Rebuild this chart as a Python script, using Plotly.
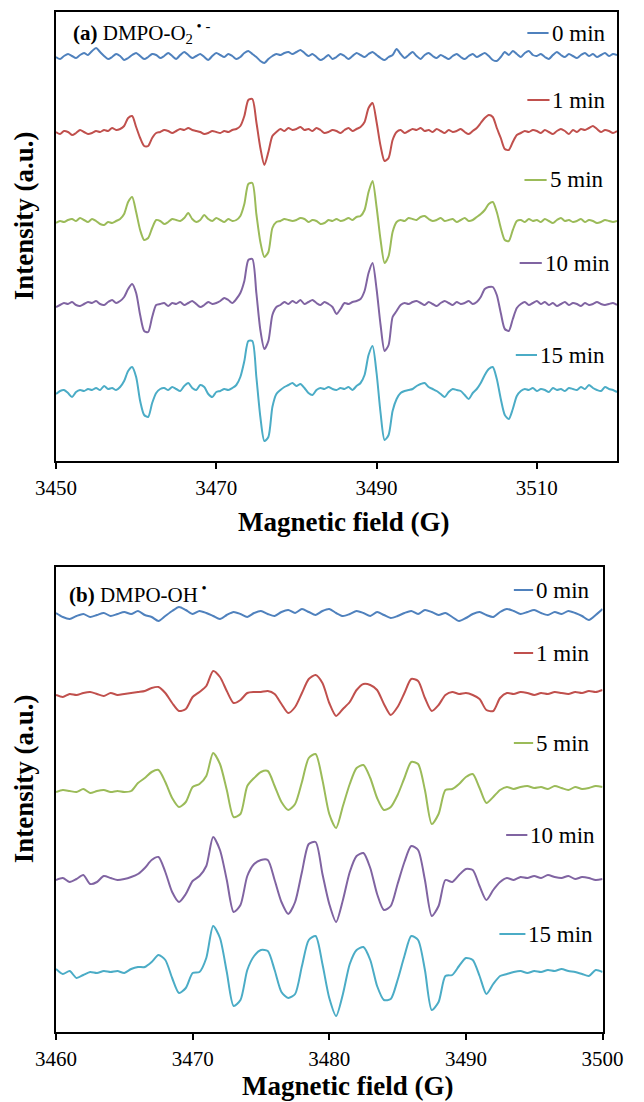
import numpy as np
import plotly.graph_objects as go

# ---------------- data ----------------
# magnetic-field sampling grids (G)
FIELD_A = np.linspace(3450, 3520, 141)
FIELD_B = np.linspace(3460, 3500, 81)

TIMES = ["0 min", "1 min", "5 min", "10 min", "15 min"]

# (a) DMPO-O2 spectra, baseline-relative intensity (a.u.)
O2_0 = [0, -2, 1, 3, 1, -1, 2, 4, 2, 6,
        9, 5, 1, -2, 0, 3, 1, -3, -1, 2,
        4, 1, -2, 0, 3, 2, -1, 1, 4, 1,
        -2, 2, 5, 2, -1, 1, 3, 0, -3, 1,
        4, 2, 0, 3, 1, -2, 0, 4, 6, 3,
        0, -4, -6, -2, 1, 3, 2, 4, 5, 3,
        5, 7, 4, 1, 3, 0, -3, -1, 2, -2,
        0, 3, 1, -2, 1, 4, 2, 0, 3, 5,
        2, -1, -3, 0, 2, 8, 3, -1, 2, 5,
        1, -2, 2, 4, 1, -1, 2, 0, -2, 1,
        3, 0, -2, 1, 3, 0, 2, 4, 1, -3,
        -4, 0, 5, 2, 6, 3, 0, 4, 6, 2,
        1, 3, 0, -2, 2, 5, 2, 0, 3, 1,
        -1, 2, 4, 1, 3, 0, 2, 4, 1, 3,
        2]
O2_1 = [0, -2, 1, 0, -3, -1, 2, 0, -2, -1,
        1, 0, 2, 1, 4, 2, 3, 6, 14, 16,
        5, -6, -14, -14, -6, -1, 0, 2, 1, -1,
        1, 3, 2, 4, 2, 1, 0, -2, -1, 1,
        0, -1, 1, 0, 2, 3, 6, 16, 32, 33,
        10, -16, -33, -20, -4, 0, 3, 1, 4, 2,
        3, 5, 2, 3, 1, 4, 2, -1, 0, 2,
        1, -1, 2, 4, 1, 3, 5, 10, 24, 29,
        10, -14, -29, -26, -8, 0, 2, -1, 1, 3,
        2, 4, 1, 2, 0, 3, 1, -1, 2, 0,
        1, 3, 0, -2, 1, 4, 9, 14, 17, 15,
        4, -6, -17, -18, -10, -3, -1, 1, 0, 2,
        1, -1, 2, 0, -2, 1, 3, 1, -2, 2,
        0, 3, 2, 4, 6, 3, 0, 2, 1, -1,
        1]
O2_5 = [-1, 1, 0, 2, 3, 1, 4, 2, 0, 3,
        1, -2, -3, 0, -1, 1, 3, 8, 20, 25,
        10, -8, -18, -16, -6, 2, 1, -2, 0, 3,
        2, 1, 4, 9, 3, 0, 2, 7, 3, 1,
        4, 2, 0, 3, 1, 2, 6, 18, 38, 39,
        8, -20, -35, -30, -6, 0, 1, 3, 2, 1,
        2, 4, 3, 0, 2, 1, -2, -1, 2, 1,
        3, 1, 2, 4, 2, 5, 6, 12, 30, 41,
        15, -18, -41, -34, -10, 0, 2, 1, 4, 3,
        2, 5, 6, 3, 1, 2, 4, 1, 2, 3,
        0, 2, 4, 1, 2, 5, 8, 12, 18, 20,
        10, -6, -18, -19, -8, 1, 2, 0, 3, 1,
        2, 0, 3, 1, -1, 2, 4, 1, 2, 0,
        1, 3, 0, 2, 1, -1, 0, 2, 1, 0,
        1]
O2_10 = [-2, 0, 2, 1, 3, 0, -1, 1, 3, 2,
         4, 1, 0, 3, 5, 2, 4, 8, 16, 21,
         12, -10, -26, -27, -12, 0, 1, 2, -1, 2,
         1, 3, 0, 2, 4, 1, -2, 0, 3, 1,
         2, 4, 7, 5, 2, 6, 12, 24, 45, 46,
         12, -25, -44, -36, -10, -2, 0, 3, 1, 4,
         2, 5, 1, 3, 5, 2, 0, 3, 1, -2,
         -9, -4, 2, 1, 3, 4, 6, 14, 32, 42,
         16, -20, -46, -40, -12, -6, 0, 2, 1, 3,
         4, 2, 0, 3, 1, -1, 2, 4, 2, 0,
         3, 1, 2, 4, 1, 3, 8, 16, 18, 18,
         10, -8, -24, -26, -14, -3, 1, 3, 0, 2,
         4, 1, 3, 0, 2, -1, 1, 3, 0, 2,
         1, -1, 2, 0, 1, 3, 1, 0, 1, 2,
         0]
O2_15 = [-3, 0, 1, -2, -6, -1, 1, 0, 2, 1,
         3, 1, 5, 2, 3, 1, 4, 10, 20, 24,
         14, -10, -24, -26, -12, -2, 2, 3, 1, 4,
         2, 0, 5, 8, 3, 1, 6, 4, -3, -6,
         -1, 0, 2, 1, 3, 6, 14, 30, 50, 50,
         14, -26, -50, -46, -16, -3, 1, 4, 6, 8,
         5, 7, 3, -2, -4, 1, 3, 2, 4, 2,
         1, 3, 2, 4, 1, 5, 8, 16, 36, 45,
         18, -22, -49, -44, -20, -8, -2, 0, 1, 2,
         5, 7, 8, 4, 2, 0, -3, -6, -1, 2,
         1, 0, -4, -8, -2, 2, 8, 16, 22, 24,
         12, -8, -24, -28, -18, -5, 0, 2, 1, 3,
         0, 2, 1, -1, 3, 1, 2, 0, 3, 2,
         1, 4, 2, 6, 3, 1, 0, 4, 2, 1,
         -1]

# (b) DMPO-OH spectra, baseline-relative intensity (a.u.)
OH_0 = [2, -2, -4, -1, 1, -2, 0, 2, -1, 1,
        3, 1, 4, 0, -2, -6, -1, 4, 8, 5,
        1, 4, 2, -1, -4, 0, 3, 1, -2, 2,
        4, 1, -1, 3, 5, 2, 6, 3, 0, 4,
        6, 2, -1, 1, 4, 2, -1, 3, 0, -3,
        -1, 2, 4, 1, 5, 3, 0, 2, -2, -6,
        -3, 1, 3, 0, -2, 3, 6, 4, 1, 3,
        5, 2, 0, 3, 1, 4, 2, -1, -5, 0,
        6]
OH_1 = [0, -2, 1, 0, 2, 3, 1, -1, 2, 0,
        1, 2, 3, 4, 7, 8, 2, -8, -16, -14,
        -2, 3, 9, 24, 18, 4, -8, -5, 2, 3,
        3, 4, 1, -9, -18, -12, 2, 16, 20, 12,
        -8, -21, -14, -7, 5, 11, 10, 5, -9, -20,
        -12, 2, 16, 14, -3, -16, -10, 0, 3, 1,
        2, 0, -4, -15, -16, -3, 2, 1, 3, 2,
        0, 2, 1, 3, 2, 1, 3, 2, 4, 3,
        5]
OH_5 = [0, 2, 1, 0, 3, -1, 1, 2, 0, 1,
        0, 1, 9, 14, 20, 22, 10, -6, -15, -10,
        5, 8, 16, 39, 28, 2, -25, -22, 6, 14,
        20, 21, 6, -10, -18, -12, 10, 34, 38, 12,
        -22, -36, -14, 8, 24, 27, 14, -6, -18, -15,
        -3, 14, 30, 28, 2, -32, -22, 2, 3, 8,
        15, 18, 4, -11, -5, 2, 5, 3, 5, 6,
        4, 5, 3, 6, 4, 2, 5, 3, 4, 6,
        5]
OH_10 = [0, 2, -2, 1, 5, -4, -2, 4, 2, 0,
         1, 3, 6, 12, 20, 23, 8, -12, -22, -14,
         -1, 4, 14, 43, 30, 0, -32, -25, 4, 16,
         20, 20, 0, -22, -34, -22, 8, 36, 38, 6,
         -24, -42, -20, 8, 24, 27, 12, -14, -30, -26,
         -4, 18, 34, 30, 0, -36, -26, 0, -2, 5,
         11, 10, -6, -20, -10, -2, 2, 0, 3, 2,
         4, 2, 5, 3, 2, 4, 1, 3, 2, 0,
         1]
OH_15 = [3, -2, 1, -6, -3, 0, -1, 1, 0, 1,
         -1, 3, 5, 5, 10, 17, 12, -6, -21, -16,
         -1, 0, 14, 46, 34, 0, -34, -28, 2, 16,
         22, 21, 2, -20, -26, -22, 6, 32, 36, 8,
         -26, -44, -22, 8, 22, 25, 12, -14, -28, -27,
         -8, 16, 36, 32, 2, -38, -30, -4, -3, 6,
         14, 12, -4, -22, -12, -4, -2, 0, 1, -1,
         1, 0, 2, 1, 3, 1, 0, -2, -4, 2,
         0]

SPECTRA_A = [O2_0, O2_1, O2_5, O2_10, O2_15]
SPECTRA_B = [OH_0, OH_1, OH_5, OH_10, OH_15]

# vertical stacking offsets of the spectra (a.u.)
STACK_A = [404, 329, 239, 156, 70]
STACK_B = [417, 337, 240, 152, 60]

TICKS_A = [3450, 3470, 3490, 3510]
TICKS_B = [3460, 3470, 3480, 3490, 3500]

# ---------------- styling / geometry ----------------
COLORS = ["#4F81BD", "#C0504D", "#9BBB59", "#8064A2", "#4BACC6"]
SERIF = "Times New Roman, Liberation Serif, Tinos, serif"
W, H = 644, 1102
ML, MR, MT, MB = 56, 6, 12, 70
PW, PH = W - ML - MR, H - MT - MB


def px(x):
    return (x - ML) / PW


def py(y):
    return (H - MB - y) / PH


fig = go.Figure()

for spec, off, col, name in zip(SPECTRA_A, STACK_A, COLORS, TIMES):
    fig.add_trace(go.Scatter(
        x=FIELD_A, y=np.asarray(spec) + off, mode="lines", name=name,
        line=dict(color=col, width=2, shape="spline", smoothing=0.7),
        xaxis="x", yaxis="y", showlegend=False))

for spec, off, col, name in zip(SPECTRA_B, STACK_B, COLORS, TIMES):
    fig.add_trace(go.Scatter(
        x=FIELD_B, y=np.asarray(spec) + off, mode="lines", name=name,
        line=dict(color=col, width=2, shape="spline", smoothing=0.7),
        xaxis="x2", yaxis="y2", showlegend=False))

axis_common = dict(showline=True, linecolor="black", linewidth=2, mirror=True,
                   showgrid=False, zeroline=False)
xcommon = dict(axis_common, ticks="outside", ticklen=6, tickwidth=2,
               tickcolor="black", ticklabelstandoff=1,
               tickfont=dict(family=SERIF, size=21, color="black"))
ycommon = dict(axis_common, ticks="", showticklabels=False)

fig.update_layout(
    width=W, height=H,
    margin=dict(l=ML, r=MR, t=MT, b=MB),
    paper_bgcolor="white", plot_bgcolor="white",
    font=dict(family=SERIF, color="black"),
    xaxis=dict(xcommon, domain=[0, 1], anchor="y", range=[3450, 3520],
               tickvals=TICKS_A),
    yaxis=dict(ycommon, domain=[py(461), 1], anchor="x", range=[0, 449]),
    xaxis2=dict(xcommon, domain=[0, px(623)], anchor="y2", range=[3460, 3500],
                tickvals=TICKS_B),
    yaxis2=dict(ycommon, domain=[0, py(567)], anchor="x2", range=[0, 465]),
)

ann = []
shapes = []

# panel labels
ann.append(dict(x=px(72), y=py(32), xref="paper", yref="paper",
                xanchor="left", yanchor="middle", showarrow=False,
                text="<b>(a)</b> DMPO-O<sub>2</sub><sup> \u2022 -</sup>",
                font=dict(family=SERIF, size=21, color="black")))
ann.append(dict(x=px(67), y=py(593), xref="paper", yref="paper",
                xanchor="left", yanchor="middle", showarrow=False,
                text="<b>(b)</b> DMPO-OH<sup> \u2022</sup>",
                font=dict(family=SERIF, size=21, color="black")))

# axis titles
for xc, yc in [(354, 522), (358, 1086)]:
    ann.append(dict(x=px(xc), y=py(yc), xref="paper", yref="paper",
                    xanchor="center", yanchor="middle", showarrow=False,
                    text="<b>Magnetic field (G)</b>",
                    font=dict(family=SERIF, size=27, color="black")))
for yc in [216, 779]:
    ann.append(dict(x=px(23), y=py(yc), xref="paper", yref="paper",
                    xanchor="center", yanchor="middle", showarrow=False,
                    textangle=-90, text="<b>Intensity (a.u.)</b>",
                    font=dict(family=SERIF, size=27, color="black")))

# inline legend keys: (line start, line end, row y) in pixels
KEYS_A = [(545, 567, 33), (545, 568, 100), (542, 565, 180), (537, 560, 263), (533, 555, 355)]
KEYS_B = [(531, 551, 590), (531, 551, 653), (531, 551, 743), (523, 545, 835), (516, 543, 934)]
for keys in (KEYS_A, KEYS_B):
    for (x0, x1, yy), col, name in zip(keys, COLORS, TIMES):
        shapes.append(dict(type="line", xref="paper", yref="paper",
                           x0=px(x0), x1=px(x1), y0=py(yy), y1=py(yy),
                           line=dict(color=col, width=2)))
        ann.append(dict(x=px(x1 + 1), y=py(yy), xref="paper", yref="paper",
                        xanchor="left", yanchor="middle", showarrow=False,
                        text=name, font=dict(family=SERIF, size=23, color="black")))

fig.update_layout(annotations=ann, shapes=shapes)
fig.write_html("out.html")
